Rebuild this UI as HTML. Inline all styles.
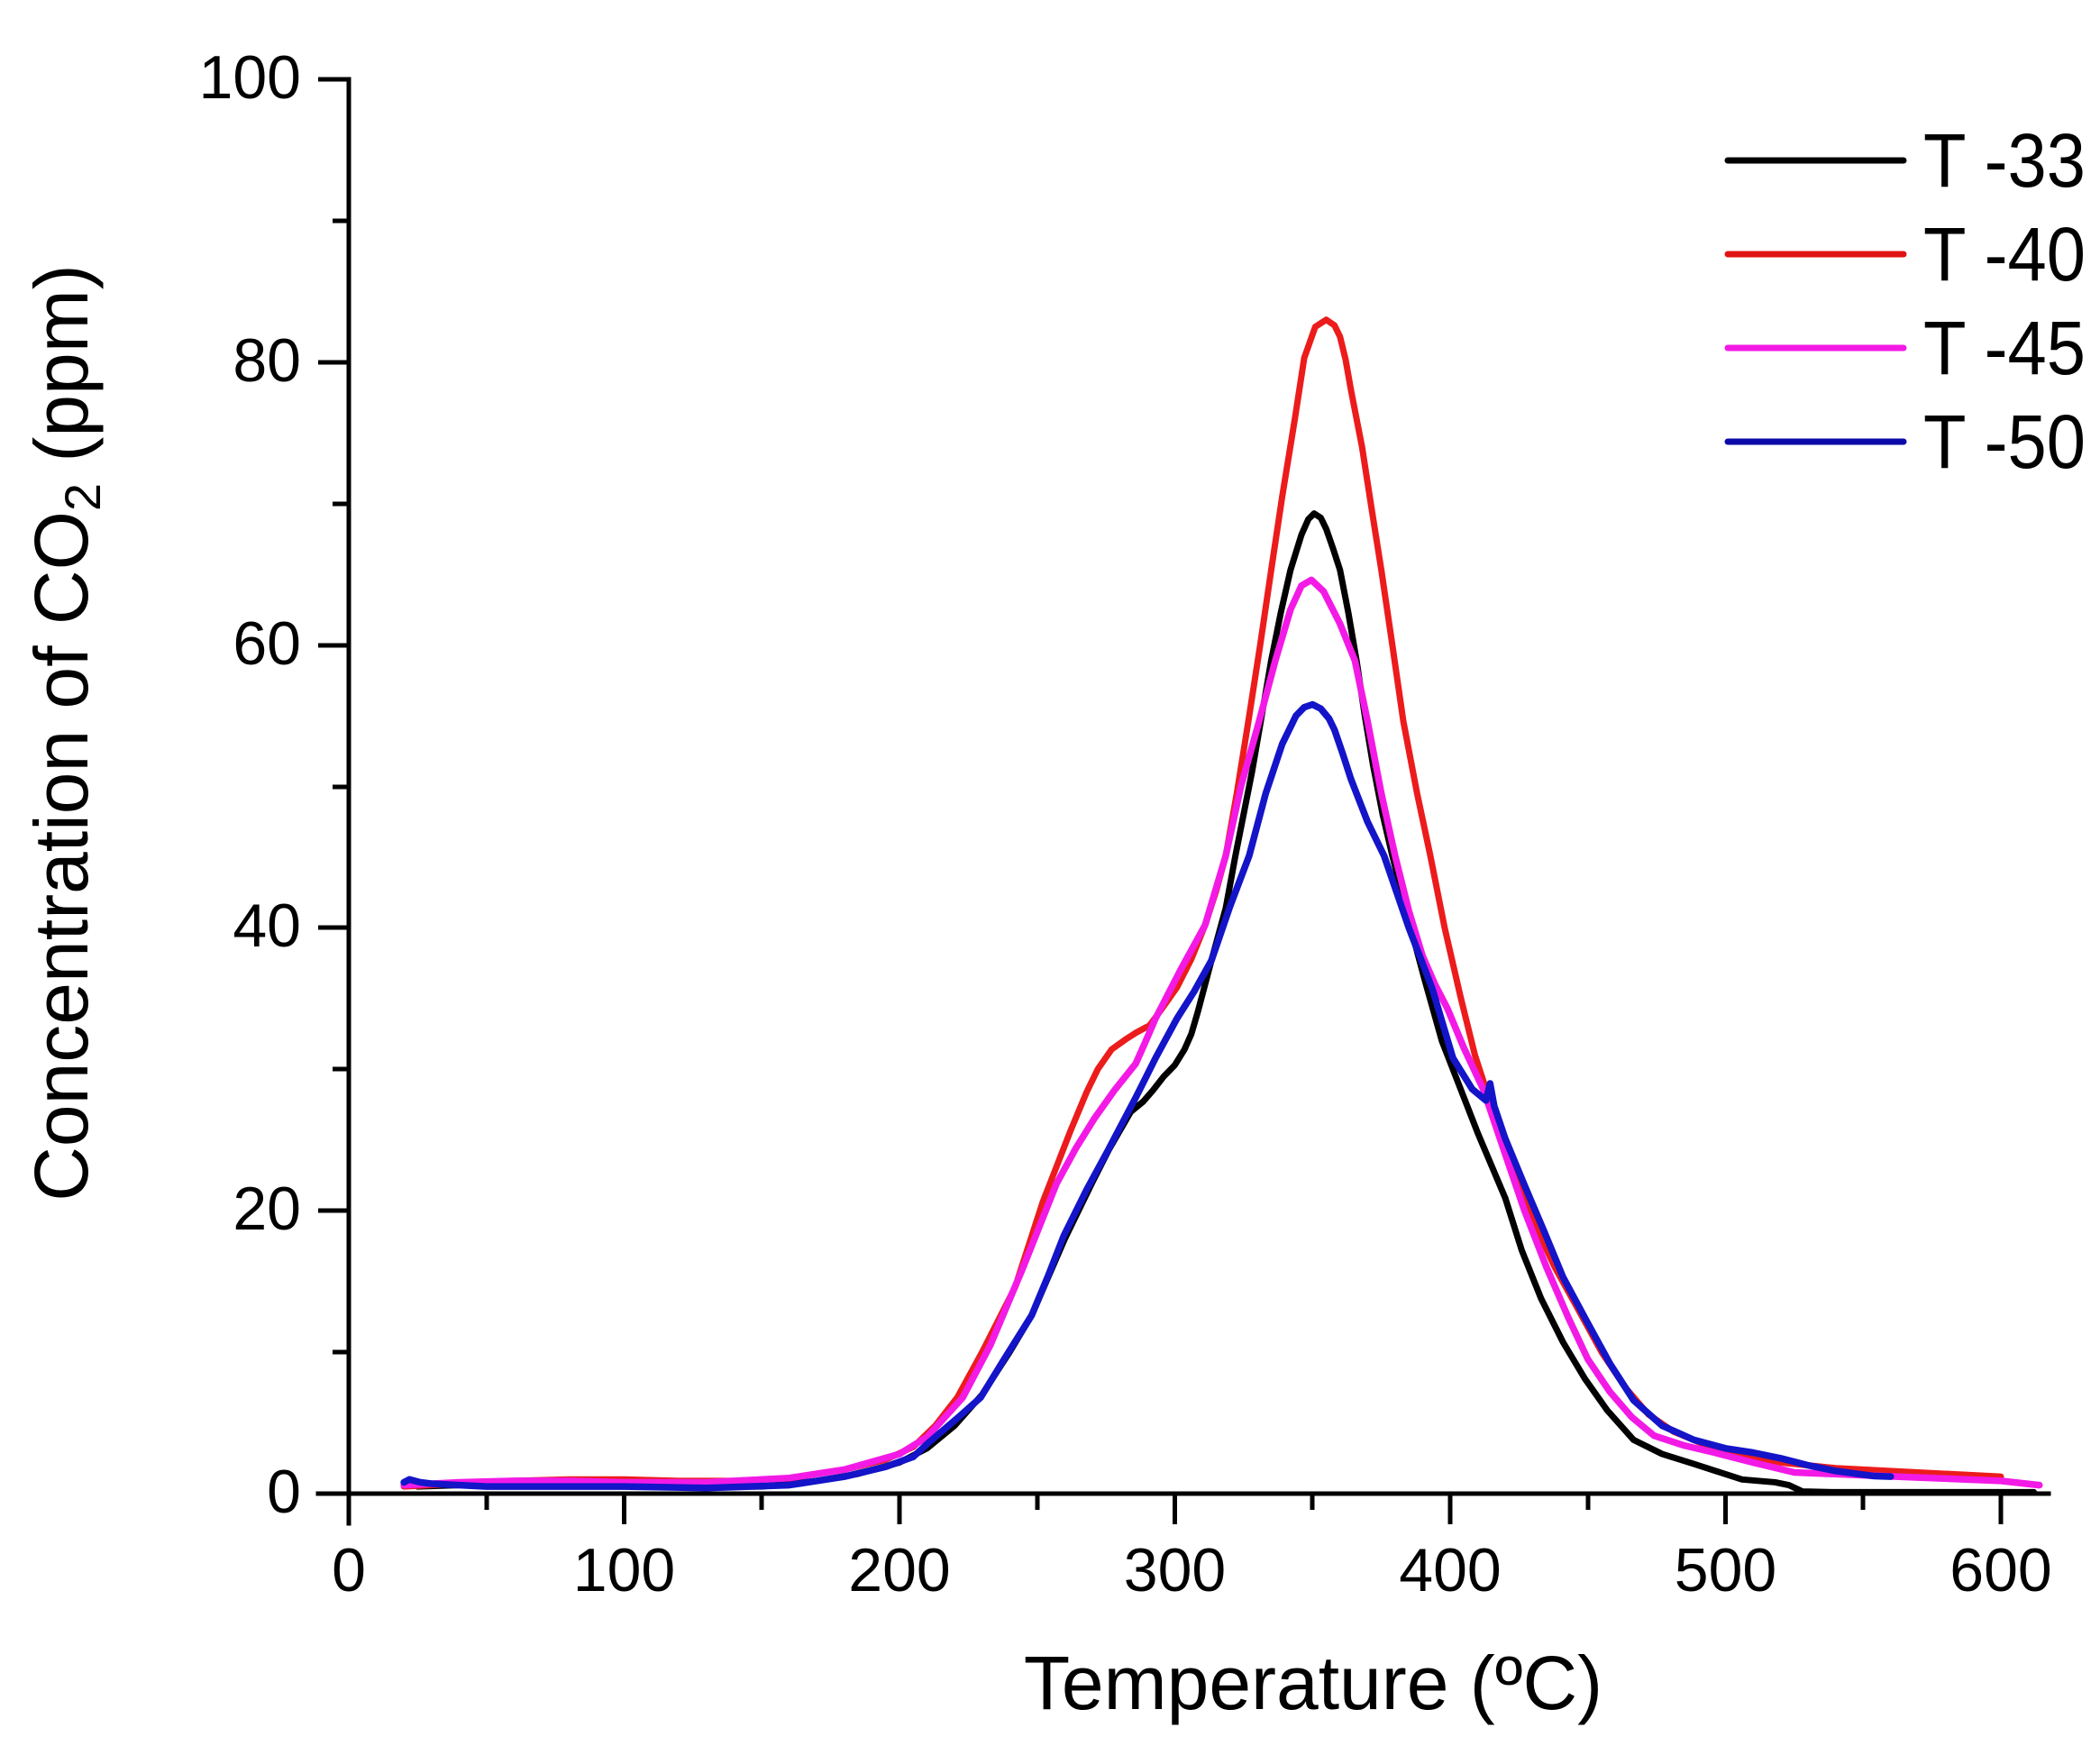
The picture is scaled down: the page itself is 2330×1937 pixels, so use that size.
<!DOCTYPE html>
<html>
<head>
<meta charset="utf-8">
<style>
  html, body { margin: 0; padding: 0; background: #ffffff; }
  svg { display: block; }
  text { font-family: "Liberation Sans", Arial, sans-serif; fill: #000; }
</style>
</head>
<body>
<svg width="2330" height="1937" viewBox="0 0 2330 1937" xmlns="http://www.w3.org/2000/svg">
  <rect x="0" y="0" width="2330" height="1937" fill="#ffffff"/>

  <!-- Data series (data coords: T in °C, v in ppm) -->
  <g transform="translate(387,1657) scale(3.055,-15.69)" fill="none" stroke-linejoin="round" stroke-linecap="round">
    <!-- T-33 black -->
    <polyline vector-effect="non-scaling-stroke" stroke="#000000" stroke-width="7" points="
      25,0.5 40,0.6 60,0.8 80,0.7 100,0.6 130,0.5 150,0.5 170,0.9 185,1.4 200,2.2 210,3.2 220,4.8 230,7.0 240,10.0
      248,12.6 260,18.0 270,22.0 276,24.3 284,27.0 288.4,27.7 292,28.5 296,29.5 300,30.3 303.5,31.4 306,32.5 308.4,34.1
      313.3,37.7 318.5,41.4 322,45.1 328,51 332,55.5 335,58.9 338.5,62.3 342,65.3 346,67.8 348.5,68.9 350.6,69.3 353,69.0
      355,68.2 357.5,66.8 360,65.3 363,62.3 366,58.9 369,55 372,51.5 375.5,48 379,45.1 385,40.5 390.5,36.5 397,32
      402,29.5 410,25.5 420,20.9 426,17.2 433,13.8 441,10.7 449,8.1 457,5.9 466.6,3.8 477,2.8 488.5,2.1 498,1.5
      506,1.0 518,0.8 523,0.6 528,0.15 540,0.1 600,0.1 612,0.1"/>
    <!-- T-40 red -->
    <polyline vector-effect="non-scaling-stroke" stroke="#ec1c1c" stroke-width="7" points="
      20,0.5 40,0.7 60,0.9 80,1.0 100,1.0 120,0.9 140,0.9 160,1.1 180,1.7 195,2.4 205,3.3 213,4.8 221,6.8 230,10
      242,14.6 252,20.6 262,25.6 268,28.4 272,30.0 277,31.4 282,32.1 286,32.6 290.8,33.1 295,34.2 300.8,35.8 306,37.8
      311,40.2 315,42.6 318.5,45.1 322.5,49.5 326.7,54.6 331,60 335,65.3 339,70.5 343.6,76 347,80.3 351,82.5 355,83
      358,82.6 360,81.8 362,80.2 364,78 368,74 371.5,69.6 375,65.3 379,60 383,54.6 388,49.5 392.8,45.1 398,40 403.8,35.1
      409,31 414,28 422,23.5 430,19.4 438,16 446,13.2 455,10 463.6,7.5 472,5.6 481,4.4 492,3.5 503,2.9 520,2.2
      540,1.8 570,1.5 600,1.2"/>
    <!-- T-45 magenta -->
    <polyline vector-effect="non-scaling-stroke" stroke="#f31ae6" stroke-width="7.5" points="
      20,0.6 40,0.8 60,0.9 80,0.9 100,0.8 130,0.8 160,1.1 180,1.7 200,2.8 210,4.0 216,5.3 223,6.8 233,10.5 244.5,15.8
      257,21.9 264,24.4 270.7,26.5 278,28.5 285.8,30.4 289,31.8 293,33.6 302,37 311,40.2 318.5,45.1 324,50 330.6,54.6
      336.5,58.9 342,62.5 346,64.2 349.6,64.6 354,63.8 360,61.5 365.4,58.9 370,54.6 375,49.5 380,45.1 385,41.2 390,38
      394.5,36 399,34.3 405,31.5 412,28.6 420,24 427,20 435,16 443,12.4 450,9.5 458,7.2 466,5.4 474,4.1 485,3.4
      496,2.9 510,2.2 525,1.5 550,1.3 575,1.1 600,0.9 614,0.6"/>
    <!-- T-50 blue -->
    <polyline vector-effect="non-scaling-stroke" stroke="#1414c8" stroke-width="7.5" points="
      20,0.8 22,1.0 26,0.8 30,0.7 50,0.5 80,0.5 100,0.5 130,0.4 160,0.6 180,1.2 195,1.9 205,2.6 210,3.5 216,4.5
      222,5.5 229.5,6.8 238,9.5 248,12.6 254,15.4 259.6,18.2 268,21.5 275.8,24.3 285.8,28 293,30.8 300.8,33.6
      307,35.5 313.3,37.7 320,41.5 327,45.1 333,49.5 339,53 344,55 347,55.6 350,55.8 353,55.5 356,54.8 358,54
      361,52.3 364,50.5 370,47.5 376,45.1 385,40 393.5,35.7 401,30.8 408,28.6 413,27.8 414.5,29.0 416,27.4 420,25.1
      427,21.8 434,18.6 441,15.3 449,12.4 458,9.2 466.6,6.6 477,4.8 488.5,3.8 500,3.2 510,2.9 520,2.5 530,2.0
      540,1.6 554,1.24 560,1.2"/>
  </g>

  <!-- Axes -->
  <g stroke="#000" stroke-width="5" fill="none" stroke-linecap="square">
    <line x1="387" y1="88" x2="387" y2="1690"/>
    <line x1="353" y1="1657" x2="2273" y2="1657"/>
  </g>
  <g stroke="#000" stroke-width="5" fill="none">
    <line x1="353" y1="1657" x2="387" y2="1657"/>
    <line x1="353" y1="1343" x2="387" y2="1343"/>
    <line x1="353" y1="1029" x2="387" y2="1029"/>
    <line x1="353" y1="716" x2="387" y2="716"/>
    <line x1="353" y1="402" x2="387" y2="402"/>
    <line x1="353" y1="88" x2="389" y2="88"/>
    <line x1="369" y1="1500" x2="387" y2="1500"/>
    <line x1="369" y1="1186" x2="387" y2="1186"/>
    <line x1="369" y1="873" x2="387" y2="873"/>
    <line x1="369" y1="559" x2="387" y2="559"/>
    <line x1="369" y1="245" x2="387" y2="245"/>
    <line x1="387" y1="1657" x2="387" y2="1691"/>
    <line x1="692.5" y1="1657" x2="692.5" y2="1691"/>
    <line x1="998" y1="1657" x2="998" y2="1691"/>
    <line x1="1303.5" y1="1657" x2="1303.5" y2="1691"/>
    <line x1="1609" y1="1657" x2="1609" y2="1691"/>
    <line x1="1914.5" y1="1657" x2="1914.5" y2="1691"/>
    <line x1="2220" y1="1657" x2="2220" y2="1691"/>
    <line x1="540" y1="1657" x2="540" y2="1675"/>
    <line x1="845" y1="1657" x2="845" y2="1675"/>
    <line x1="1151" y1="1657" x2="1151" y2="1675"/>
    <line x1="1456" y1="1657" x2="1456" y2="1675"/>
    <line x1="1762" y1="1657" x2="1762" y2="1675"/>
    <line x1="2067" y1="1657" x2="2067" y2="1675"/>
  </g>

  <!-- Y tick labels -->
  <g font-size="68" text-anchor="end">
    <text x="334" y="1678">0</text>
    <text x="334" y="1364">20</text>
    <text x="334" y="1050">40</text>
    <text x="334" y="737">60</text>
    <text x="334" y="423">80</text>
    <text x="334" y="109">100</text>
  </g>

  <!-- X tick labels -->
  <g font-size="68" text-anchor="middle">
    <text x="387" y="1765">0</text>
    <text x="692.5" y="1765">100</text>
    <text x="998" y="1765">200</text>
    <text x="1303.5" y="1765">300</text>
    <text x="1609" y="1765">400</text>
    <text x="1914.5" y="1765">500</text>
    <text x="2220" y="1765">600</text>
  </g>

  <!-- Axis titles -->
  <text x="1457" y="1896" font-size="84" text-anchor="middle">Temperature (ºC)</text>
  <text transform="translate(97,813) rotate(-90)" font-size="84" text-anchor="middle">Concentration of CO<tspan font-size="56" dy="14">2</tspan><tspan dy="-14"> (ppm)</tspan></text>

  <!-- Legend -->
  <g stroke-width="7" stroke-linecap="round">
    <line x1="1917" y1="178" x2="2112" y2="178" stroke="#000000"/>
    <line x1="1917" y1="282" x2="2112" y2="282" stroke="#e01414"/>
    <line x1="1917" y1="386" x2="2112" y2="386" stroke="#f31ae6"/>
    <line x1="1917" y1="490" x2="2112" y2="490" stroke="#0a0aa8"/>
  </g>
  <g font-size="84">
    <text x="2134" y="207" textLength="180" lengthAdjust="spacingAndGlyphs">T -33</text>
    <text x="2134" y="311" textLength="180" lengthAdjust="spacingAndGlyphs">T -40</text>
    <text x="2134" y="415" textLength="180" lengthAdjust="spacingAndGlyphs">T -45</text>
    <text x="2134" y="519" textLength="180" lengthAdjust="spacingAndGlyphs">T -50</text>
  </g>
</svg>
</body>
</html>
